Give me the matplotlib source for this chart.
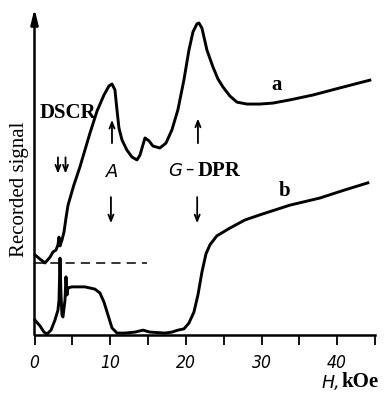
import numpy as np
import matplotlib.pyplot as plt

# field values (kOe) and signal (arb. units)
field_a = [0.07, 0.73, 1.39, 2.05, 2.44, 2.84, 3.1, 3.24, 3.37, 3.63, 3.9, 4.16,
           4.43, 5.2, 6.0, 7.33, 8.26, 9.18, 9.84, 10.24, 10.63, 10.9, 11.16,
           11.56, 12.2, 12.88, 13.54, 13.94, 14.6, 15.13, 15.65, 16.57, 17.37,
           18.16, 18.95, 19.75, 20.41, 20.94, 21.46, 21.73, 22.13, 22.79, 23.58,
           24.24, 24.9, 25.82, 26.75, 28.07, 29.79, 31.5, 33.78, 36.8, 40.36, 44.32]
signal_a = [24.8, 23.5, 22.3, 24.1, 25.7, 26.3, 27.9, 30.3, 27.6, 29.4, 31.9, 36.2,
            40.2, 46.4, 52.0, 62.5, 69.3, 74.3, 77.1, 77.7, 75.9, 69.7, 64.1,
            60.4, 57.3, 55.1, 54.2, 55.7, 61.0, 60.1, 58.5, 57.9, 59.4,
            63.5, 69.7, 79.0, 88.2, 93.8, 96.3, 96.6, 95.0, 88.2, 83.0,
            79.3, 76.8, 74.0, 72.1, 71.5, 71.5, 71.8, 72.8, 74.3, 76.5, 78.9]

field_b = [0.07, 0.73, 1.25, 1.65, 2.18, 2.7, 3.1, 3.24, 3.37, 3.5, 3.63, 3.76,
           4.03, 4.16, 4.29, 4.43, 4.95, 6.67, 7.99, 8.65, 9.18, 9.71, 10.24,
           10.9, 11.96, 13.28, 14.34, 15.26, 17.24, 18.16, 18.95, 19.75, 20.41,
           21.07, 21.6, 22.13, 22.66, 23.18, 24.1, 25.82, 27.8, 29.79, 33.75,
           37.7, 41.0, 44.05]
signal_b = [4.6, 2.8, 0.9, 0.3, 1.5, 4.6, 7.7, 10.8, 23.8, 12.4, 6.2, 5.6,
            10.8, 18.0, 12.4, 14.6, 14.9, 14.9, 14.2, 13.0, 10.2, 6.2, 2.2,
            0.6, 0.6, 0.9, 1.5, 0.9, 0.6, 0.9, 1.5, 1.9, 3.7,
            7.1, 12.4, 19.5, 25.1, 27.9, 30.7, 33.1, 35.6, 37.2, 40.2,
            42.4, 44.9, 47.1]

baseline_b = 22.3          # dashed zero level of curve b
baseline_end = 14.9

tick_pos = [0, 5, 10, 15, 20, 25, 30, 35, 40, 45]
tick_labels = ['0', '', '10', '', '20', '', '30', '', '40', '']

serif = 'Liberation Serif'

fig = plt.figure(figsize=(3.86, 3.96), dpi=100)
ax = fig.add_axes([34.5 / 386, 61 / 396, 340.5 / 386, 323 / 396])
ax.set_xlim(0, 45)
ax.set_ylim(0, 100)

ax.plot(field_a, signal_a, color='black', lw=2.1, solid_joinstyle='round', clip_on=False)
ax.plot(field_b, signal_b, color='black', lw=2.1, solid_joinstyle='round', clip_on=False)
ax.plot([0, baseline_end], [baseline_b, baseline_b], color='black', lw=1.1,
        dashes=(6, 4))

# axes
for s in ['top', 'right', 'left']:
    ax.spines[s].set_visible(False)
ax.spines['bottom'].set_linewidth(1.8)
ax.annotate('', xy=(0, 101), xytext=(0, 0),
            arrowprops=dict(arrowstyle='-|>,head_length=0.9,head_width=0.22',
                            lw=1.8, color='black', shrinkA=0, shrinkB=0),
            annotation_clip=False)
ax.set_yticks([])
ax.set_xticks(tick_pos)
ax.set_xticklabels(tick_labels)
ax.tick_params(axis='x', direction='out', length=7, width=1.3, pad=7)
for lab in ax.get_xticklabels():
    lab.set_fontstyle('italic')
    lab.set_fontsize(12.5)
    lab.set_fontstretch('condensed')

# marker arrows
def arrow(x, y0, y1):
    ax.annotate('', xy=(x, y1), xytext=(x, y0),
                arrowprops=dict(arrowstyle='->,head_length=0.45,head_width=0.18',
                                lw=1.3, color='black', shrinkA=0, shrinkB=0))

arrow(3.1, 55, 50)
arrow(4.1, 55, 50)
arrow(10.24, 59.4, 66.6)
arrow(10.1, 42.7, 34.6)
arrow(21.6, 59.4, 67.0)
arrow(21.5, 42.7, 34.6)

ax.text(4.4, 68.7, 'DSCR', family=serif, fontweight='bold', fontsize=15,
        ha='center', va='center')
ax.text(10.24, 50.5, 'A', style='italic', fontsize=13, ha='center', va='center')
ax.text(18.6, 50.8, 'G', style='italic', fontsize=13, ha='center', va='center')
ax.text(20.5, 51.6, '\u2013', fontsize=12, ha='center', va='center')
ax.text(21.5, 50.8, 'DPR', family=serif, fontweight='bold', fontsize=15,
        ha='left', va='center')
ax.text(32.0, 77.4, 'a', family=serif, fontweight='bold', fontsize=15,
        ha='center', va='center')
ax.text(33.0, 44.6, 'b', family=serif, fontweight='bold', fontsize=15,
        ha='center', va='center')
ax.text(-1.95, 45.0, 'Recorded signal', family=serif, fontsize=15,
        rotation=90, ha='center', va='center')
ax.text(39.2, -14.9, 'H,', style='italic', fontsize=12.5, ha='center', va='center')
ax.text(40.6, -14.6, 'kOe', family=serif, fontweight='bold', fontsize=15,
        ha='left', va='center')

fig.savefig('out.png', dpi=100)
